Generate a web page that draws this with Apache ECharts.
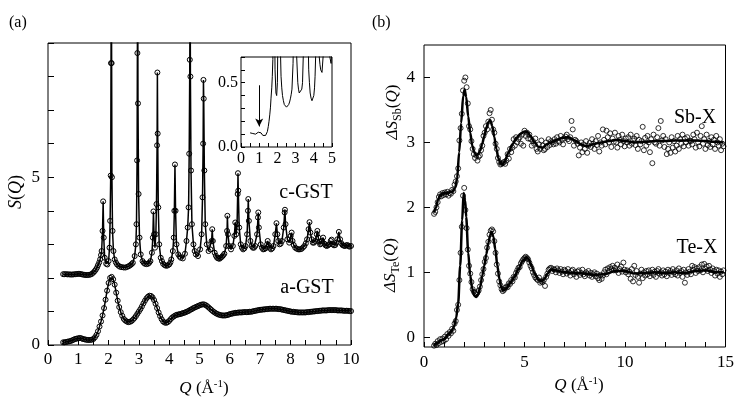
<!DOCTYPE html>
<html>
<head>
<meta charset="utf-8">
<script src="https://cdn.jsdelivr.net/npm/echarts@6/dist/echarts.min.js"></script>
<style>
  html, body { margin: 0; background: #fff; }
  #chart { width: 737px; height: 399px; }
</style>
</head>
<body>
<div id="chart"></div>
<script>
const FONT = '"Liberation Serif", "Times New Roman", serif'

// (a) amorphous GST, measured every 0.05 from Q = 0.5
const aQ0 = 0.5
const aStep = 0.05
const aGST = [
  0.08, 0.08, 0.09, 0.10, 0.11, 0.12, 0.14, 0.16, 0.18, 0.19,
  0.20, 0.21, 0.20, 0.18, 0.17, 0.16, 0.15, 0.15, 0.15, 0.16,
  0.18, 0.23, 0.30, 0.41, 0.55, 0.70, 0.88, 1.10, 1.35, 1.62,
  1.85, 2.00, 2.03, 1.96, 1.80, 1.56, 1.32, 1.13, 0.98, 0.87,
  0.78, 0.73, 0.70, 0.68, 0.69, 0.71, 0.75, 0.80, 0.86, 0.93,
  1.00, 1.07, 1.15, 1.24, 1.32, 1.39, 1.44, 1.47, 1.46, 1.42,
  1.34, 1.23, 1.10, 0.97, 0.86, 0.77, 0.70, 0.67, 0.66, 0.68,
  0.72, 0.77, 0.82, 0.85, 0.88, 0.90, 0.91, 0.92, 0.93, 0.95,
  0.96, 0.98, 1.00, 1.02, 1.05, 1.07, 1.10, 1.12, 1.14, 1.16,
  1.18, 1.20, 1.21, 1.21, 1.19, 1.16, 1.12, 1.08, 1.04, 1.00,
  0.97, 0.94, 0.92, 0.90, 0.89, 0.88, 0.88, 0.88, 0.89, 0.90,
  0.92, 0.93, 0.94, 0.95, 0.96, 0.96, 0.97, 0.97, 0.97, 0.98,
  0.98, 0.98, 0.98, 0.99, 0.99, 1.00, 1.01, 1.02, 1.03, 1.04,
  1.05, 1.05, 1.06, 1.06, 1.07, 1.07, 1.08, 1.08, 1.08, 1.08,
  1.08, 1.08, 1.07, 1.07, 1.06, 1.05, 1.04, 1.03, 1.02, 1.01,
  1.00, 0.99, 0.99, 0.98, 0.98, 0.97, 0.97, 0.97, 0.97, 0.97,
  0.97, 0.98, 0.98, 0.99, 0.99, 1.00, 1.00, 1.01, 1.01, 1.02,
  1.02, 1.03, 1.03, 1.03, 1.03, 1.04, 1.04, 1.04, 1.04, 1.04,
  1.04, 1.03, 1.03, 1.03, 1.03, 1.02, 1.02, 1.02, 1.02, 1.01,
  1.01
]

// (a) crystalline GST [Q, S(Q)], unshifted (inset); main panel shows it +2
const cGST = [
  [0.50, 0.11], [0.55, 0.11], [0.60, 0.11], [0.65, 0.105], [0.70, 0.105], [0.75, 0.10], [0.80, 0.10],
  [0.85, 0.105], [0.90, 0.11], [0.95, 0.115], [1.00, 0.12], [1.05, 0.12], [1.10, 0.11], [1.15, 0.10],
  [1.20, 0.09], [1.25, 0.085], [1.30, 0.085], [1.35, 0.09], [1.40, 0.10], [1.45, 0.12], [1.50, 0.16],
  [1.54, 0.2], [1.58, 0.25], [1.62, 0.31], [1.65, 0.38], [1.69, 0.46], [1.72, 0.55], [1.75, 0.68],
  [1.77, 0.8], [1.80, 1.4], [1.82, 2.28], [1.84, 1.2], [1.87, 0.6], [1.92, 0.42], [1.96, 0.40],
  [2.00, 0.5], [2.03, 0.9], [2.05, 1.7], [2.07, 3.05], [2.08, 6.4], [2.09, 9.5], [2.10, 6.4],
  [2.11, 3.0], [2.13, 1.4], [2.16, 0.8], [2.20, 0.55], [2.24, 0.46], [2.28, 0.4], [2.33, 0.36],
  [2.38, 0.33], [2.44, 0.32], [2.50, 0.31], [2.56, 0.31], [2.62, 0.33], [2.67, 0.35], [2.72, 0.38],
  [2.76, 0.41], [2.80, 0.45], [2.86, 0.65], [2.90, 1.0], [2.92, 1.6], [2.94, 3.5], [2.95, 6.7],
  [2.96, 9.5], [2.97, 5.2], [2.99, 2.5], [3.02, 1.2], [3.06, 0.7], [3.12, 0.5], [3.16, 0.45],
  [3.20, 0.42], [3.25, 0.41], [3.30, 0.42], [3.34, 0.45], [3.38, 0.5], [3.43, 0.75], [3.46, 1.2],
  [3.48, 1.98], [3.50, 1.3], [3.53, 0.9], [3.56, 1.3], [3.58, 2.2], [3.60, 3.95], [3.61, 6.12],
  [3.62, 4.3], [3.64, 2.1], [3.67, 1.0], [3.72, 0.6], [3.76, 0.5], [3.80, 0.42], [3.85, 0.38],
  [3.90, 0.36], [3.95, 0.37], [4.00, 0.4], [4.04, 0.46], [4.07, 0.55], [4.12, 0.8], [4.15, 1.2],
  [4.17, 2.0], [4.19, 3.38], [4.21, 2.0], [4.24, 1.0], [4.30, 0.7], [4.34, 0.64], [4.38, 0.6],
  [4.45, 0.58], [4.52, 0.72], [4.57, 1.1], [4.61, 1.5], [4.64, 2.1], [4.66, 3.7], [4.68, 6.5],
  [4.69, 9.5], [4.70, 6.0], [4.72, 3.2], [4.75, 1.6], [4.80, 1.0], [4.84, 0.8], [4.88, 0.7],
  [4.95, 0.65], [5.02, 0.85], [5.07, 1.3], [5.10, 2.4], [5.12, 4.0], [5.13, 5.9], [5.14, 5.34],
  [5.16, 3.2], [5.19, 1.6], [5.24, 1.0], [5.30, 0.8], [5.36, 0.85], [5.40, 1.1], [5.42, 1.45],
  [5.44, 1.1], [5.50, 0.75], [5.54, 0.66], [5.58, 0.6], [5.62, 0.58], [5.66, 0.57], [5.70, 0.6],
  [5.74, 0.63], [5.78, 0.67], [5.82, 0.72], [5.88, 0.95], [5.91, 1.4], [5.92, 1.85], [5.94, 1.3],
  [5.98, 0.95], [6.04, 0.85], [6.10, 0.95], [6.15, 1.25], [6.18, 1.65], [6.21, 1.3], [6.24, 1.6],
  [6.26, 2.5], [6.27, 3.12], [6.28, 2.6], [6.31, 1.5], [6.36, 1.0], [6.40, 0.9], [6.44, 0.85],
  [6.48, 0.88], [6.52, 0.95], [6.57, 1.3], [6.60, 2.0], [6.61, 2.35], [6.63, 1.7], [6.68, 1.1],
  [6.72, 0.95], [6.76, 0.9], [6.80, 0.9], [6.84, 0.95], [6.90, 1.3], [6.93, 1.8], [6.94, 1.95],
  [6.96, 1.5], [7.02, 1.0], [7.06, 0.9], [7.10, 0.85], [7.14, 0.86], [7.18, 0.88], [7.23, 1.0],
  [7.25, 1.1], [7.28, 0.98], [7.32, 0.9], [7.36, 0.85], [7.40, 0.88], [7.44, 0.95], [7.50, 1.3],
  [7.54, 1.63], [7.57, 1.3], [7.60, 1.1], [7.64, 1.0], [7.68, 1.02], [7.72, 1.1], [7.78, 1.5],
  [7.81, 1.95], [7.82, 2.03], [7.84, 1.6], [7.90, 1.15], [7.96, 1.05], [8.01, 1.25], [8.04, 1.35],
  [8.07, 1.1], [8.11, 0.98], [8.16, 0.9], [8.21, 0.87], [8.26, 0.85], [8.31, 0.85], [8.36, 0.86],
  [8.41, 0.9], [8.46, 0.95], [8.51, 1.03], [8.55, 1.15], [8.60, 1.45], [8.63, 1.66], [8.66, 1.35],
  [8.70, 1.15], [8.74, 1.05], [8.78, 1.05], [8.82, 1.1], [8.87, 1.3], [8.89, 1.4], [8.92, 1.2],
  [8.95, 1.08], [8.98, 1.0], [9.01, 1.02], [9.04, 1.1], [9.08, 1.2], [9.12, 1.02], [9.16, 0.97],
  [9.20, 0.95], [9.24, 0.97], [9.28, 1.0], [9.33, 1.1], [9.36, 1.14], [9.40, 1.0], [9.44, 0.97],
  [9.48, 0.98], [9.52, 1.05], [9.55, 1.15], [9.60, 1.37], [9.64, 1.15], [9.68, 1.03], [9.72, 0.98],
  [9.76, 0.96], [9.80, 0.95], [9.84, 0.97], [9.88, 0.98], [9.92, 0.95], [9.95, 0.93], [10.0, 0.95]
]
const C_OFFSET = 2

// (b) measured points, every 0.06 from Q = 0.5 (Sb-X shown +2)
const bQ0 = 0.5
const bStep = 0.06
const sbPts = [
  -0.10, -0.07, 0.00, 0.08, 0.16, 0.20, 0.17, 0.22, 0.19, 0.23,
  0.20, 0.24, 0.18, 0.22, 0.21, 0.27, 0.25, 0.35, 0.40, 0.48,
  0.60, 1.03, 1.22, 1.44, 1.80, 1.95, 2.00, 1.85, 1.60, 1.25,
  1.20, 1.02, 0.90, 0.82, 0.76, 0.80, 0.72, 0.78, 0.80, 0.88,
  0.95, 1.10, 1.15, 1.25, 1.20, 1.32, 1.45, 1.50, 1.35, 1.20,
  1.15, 0.98, 0.90, 0.76, 0.70, 0.66, 0.67, 0.68, 0.70, 0.67,
  0.72, 0.82, 0.75, 0.90, 0.85, 0.92, 1.05, 0.95, 1.08, 1.00,
  1.05, 1.08, 0.98, 1.12, 0.95, 1.18, 1.10, 1.15, 1.06, 1.12,
  1.05, 0.95, 1.02, 0.98, 1.06, 0.90, 0.86, 0.97, 0.90, 1.03,
  0.95, 0.88, 0.90, 1.00, 0.93, 1.05, 0.96, 1.02, 1.00, 0.97,
  1.05, 0.98, 1.08, 1.02, 1.00, 1.10, 1.04, 0.97, 1.06, 1.09,
  1.12, 1.05, 1.02, 1.08, 1.33, 1.20, 0.95, 1.04, 1.02, 0.98,
  0.80, 0.92, 1.00, 0.85, 0.97, 0.90, 1.02, 0.84, 0.95, 0.99,
  0.93, 1.05, 0.98, 0.90, 1.02, 0.96, 1.10, 0.86, 1.00, 0.95,
  1.20, 1.04, 0.97, 1.18, 1.08, 1.00, 1.14, 0.93, 1.06, 1.01,
  1.15, 1.00, 0.92, 1.10, 1.04, 0.97, 1.12, 1.02, 0.94, 1.06,
  1.00, 1.08, 0.95, 1.12, 0.98, 1.03, 1.06, 0.96, 1.10, 0.90,
  1.04, 0.97, 1.02, 1.24, 0.88, 1.07, 0.95, 1.10, 1.00, 0.85,
  1.05, 0.68, 1.12, 1.00, 0.98, 1.08, 1.22, 0.95, 1.33, 1.03,
  1.10, 0.93, 1.05, 0.82, 0.90, 1.00, 0.84, 1.08, 0.92, 1.02,
  0.86, 0.95, 1.10, 0.90, 1.05, 0.98, 1.12, 0.94, 1.06, 1.00,
  1.08, 0.95, 1.03, 1.02, 0.97, 1.12, 1.05, 0.92, 1.15, 1.00,
  0.94, 1.10, 1.25, 0.98, 1.05, 0.90, 1.12, 0.96, 1.02, 0.93,
  1.08, 0.97, 1.04, 0.90, 1.10, 1.00, 0.95, 1.05, 0.88, 0.98, 0.94
]
const tePts = [
  -0.13, -0.10, -0.12, -0.06, -0.09, -0.03, -0.07, -0.02, -0.06, 0.01,
  -0.03, 0.05, 0.02, 0.08, 0.06, 0.13, 0.10, 0.21, 0.25, 0.42,
  0.50, 0.88, 1.30, 1.70, 2.18, 2.30, 1.96, 1.68, 1.35, 1.10,
  0.98, 0.85, 0.74, 0.70, 0.68, 0.66, 0.69, 0.72, 0.78, 0.88,
  0.97, 1.05, 1.16, 1.22, 1.38, 1.47, 1.58, 1.64, 1.66, 1.63,
  1.48, 1.30, 1.12, 0.98, 0.86, 0.80, 0.74, 0.71, 0.73, 0.76,
  0.78, 0.77, 0.83, 0.82, 0.88, 0.86, 0.93, 0.92, 0.99, 1.03,
  1.07, 1.08, 1.14, 1.17, 1.20, 1.22, 1.24, 1.22, 1.20, 1.15,
  1.10, 1.06, 1.00, 0.96, 0.92, 0.90, 0.88, 0.92, 0.84, 0.86,
  0.85, 0.88, 0.79, 0.93, 0.98, 1.04, 1.06, 1.07, 1.02, 1.05,
  1.04, 1.00, 1.06, 1.03, 0.99, 1.05, 1.01, 0.97, 1.04, 1.02,
  0.98, 1.05, 1.00, 0.95, 1.02, 1.04, 0.97, 1.00, 0.93, 1.01,
  1.03, 0.96, 0.99, 1.04, 0.97, 0.94, 1.00, 0.98, 1.02, 0.95,
  0.99, 0.93, 0.97, 1.00, 0.94, 0.98, 0.91, 0.88, 0.96, 0.90,
  0.95, 1.00, 1.04, 0.97, 1.06, 1.02, 1.08, 1.05, 1.10, 1.03,
  1.07, 1.03, 1.12, 0.99, 1.05, 1.09, 1.01, 1.15, 1.04, 1.00,
  1.03, 0.97, 1.01, 0.90, 1.05, 0.86, 1.10, 0.96, 1.02, 0.93,
  0.84, 0.98, 1.04, 0.91, 1.00, 0.95, 1.02, 0.97, 1.03, 0.94,
  0.99, 1.04, 0.96, 1.01, 0.93, 1.02, 1.05, 0.98, 1.00, 0.95,
  1.03, 0.97, 1.01, 0.94, 1.04, 0.99, 1.02, 0.96, 1.05, 1.00,
  0.97, 1.03, 0.95, 1.06, 0.99, 1.02, 0.93, 1.04, 0.84, 1.00,
  0.96, 1.05, 1.01, 0.97, 1.10, 1.04, 1.08, 0.99, 1.06, 1.02,
  1.08, 1.03, 1.12, 1.00, 1.13, 1.05, 1.09, 1.02, 1.10, 1.04,
  0.99, 1.06, 1.02, 0.95, 1.04, 0.98, 1.03, 0.93, 1.01, 0.97, 1.03
]
const SB_OFFSET = 2

// (b) fitted curves [Q, ΔS], unshifted
const sbFit = [
  [0.5, -0.08], [0.6, 0.0], [0.7, 0.12], [0.8, 0.18], [0.9, 0.21], [1.0, 0.22], [1.2, 0.23],
  [1.4, 0.24], [1.55, 0.3], [1.65, 0.45], [1.75, 0.85], [1.85, 1.3], [1.95, 1.72], [2.02, 1.81],
  [2.1, 1.7], [2.2, 1.4], [2.3, 1.15], [2.4, 0.95], [2.5, 0.85], [2.6, 0.8], [2.7, 0.82],
  [2.8, 0.88], [2.9, 0.98], [3.0, 1.1], [3.1, 1.22], [3.2, 1.31], [3.3, 1.34], [3.4, 1.25],
  [3.5, 1.08], [3.6, 0.9], [3.7, 0.76], [3.8, 0.68], [3.9, 0.66], [4.0, 0.7], [4.2, 0.84],
  [4.4, 0.97], [4.6, 1.07], [4.8, 1.13], [5.0, 1.17], [5.15, 1.16], [5.3, 1.1], [5.5, 1.0],
  [5.7, 0.93], [5.9, 0.92], [6.1, 0.97], [6.3, 1.0], [6.6, 1.04], [6.9, 1.07], [7.2, 1.08],
  [7.5, 1.03], [7.8, 0.97], [8.1, 0.94], [8.4, 0.97], [8.8, 1.0], [9.2, 1.02], [9.6, 1.04],
  [10.0, 1.02], [10.5, 1.0], [11.0, 1.01], [11.5, 1.02], [12.0, 1.02], [12.5, 1.03], [13.0, 1.03],
  [13.5, 1.03], [14.0, 1.02], [14.5, 1.01], [14.9, 1.0]
]
const teFit = [
  [0.5, -0.13], [0.7, -0.08], [0.9, -0.04], [1.0, -0.03], [1.1, 0.0], [1.2, 0.04], [1.3, 0.07],
  [1.4, 0.11], [1.5, 0.17], [1.6, 0.3], [1.7, 0.52], [1.8, 1.1], [1.9, 1.8], [1.97, 2.22],
  [2.05, 2.1], [2.1, 1.85], [2.2, 1.3], [2.3, 0.95], [2.4, 0.75], [2.5, 0.64], [2.6, 0.62],
  [2.7, 0.66], [2.8, 0.78], [2.9, 0.95], [3.0, 1.1], [3.1, 1.28], [3.2, 1.45], [3.3, 1.58],
  [3.37, 1.62], [3.45, 1.55], [3.55, 1.35], [3.65, 1.1], [3.75, 0.9], [3.85, 0.76], [3.95, 0.72],
  [4.1, 0.76], [4.3, 0.84], [4.5, 0.93], [4.7, 1.05], [4.9, 1.17], [5.1, 1.23], [5.2, 1.2],
  [5.35, 1.1], [5.5, 0.98], [5.7, 0.88], [5.85, 0.86], [6.0, 0.9], [6.15, 0.98], [6.3, 1.04],
  [6.5, 1.03], [7.0, 1.0], [7.5, 0.99], [8.0, 0.98], [8.5, 0.96], [9.0, 0.97], [9.5, 1.02],
  [10.0, 1.02], [10.5, 0.98], [11.0, 0.99], [11.5, 1.0], [12.0, 0.99], [12.5, 1.0], [13.0, 0.99],
  [13.5, 1.02], [14.0, 1.03], [14.5, 1.0], [14.9, 1.0]
]

// ticks and tick labels
const aXTicks = [0, 0.5, 1, 1.5, 2, 2.5, 3, 3.5, 4, 4.5, 5, 5.5, 6, 6.5, 7, 7.5, 8, 8.5, 9, 9.5, 10]
const aXLabels = [0, 1, 2, 3, 4, 5, 6, 7, 8, 9, 10]
const aYTicks = [0, 1, 2, 3, 4, 5, 6, 7, 8, 9]
const aYLabels = [0, 5]
const inXTicks = [0, 0.5, 1, 1.5, 2, 2.5, 3, 3.5, 4, 4.5, 5]
const inXLabels = [0, 1, 2, 3, 4, 5]
const inYTicks = [0, 0.1, 0.2, 0.3, 0.4, 0.5, 0.6, 0.7]
const inYLabels = [0, 0.5]
const bXTicks = [0, 1, 2, 3, 4, 5, 6, 7, 8, 9, 10, 11, 12, 13, 14, 15]
const bXLabels = [0, 5, 10, 15]
const bYTicks = [0, 1, 2, 3, 4]
const bYLabels = [0, 1, 2, 3, 4]

// arrow in the inset (data units)
const ARROW_Q = 1
const ARROW_FROM = 0.48
const ARROW_TO = 0.16

const chart = echarts.init(document.getElementById('chart'), null, { renderer: 'canvas' })

const onGrid = (series, q0, step, offset) =>
  series.map((v, i) => [+(q0 + i * step).toFixed(3), v + offset])
const shift = (pairs, offset) => pairs.map(([q, v]) => [q, v + offset])

const tickStyle = { color: '#000', width: 1 }

function axis(gridIndex, min, max, ticks, labels, opts = {}) {
  return {
    type: 'value',
    gridIndex,
    min,
    max,
    axisLine: { show: false, onZero: false },
    splitLine: { show: false },
    axisTick: { show: true, inside: true, length: opts.tickLen || 5, customValues: ticks, lineStyle: tickStyle },
    axisLabel: {
      color: '#000',
      fontFamily: FONT,
      fontSize: opts.fontSize || 17,
      margin: opts.margin || 7,
      customValues: labels,
      formatter: opts.formatter,
    },
  }
}

const openCircle = { color: 'rgba(0,0,0,0)', borderColor: '#000', borderWidth: 1 }

const sub = (size) => ({ fontFamily: FONT, fontSize: size, verticalAlign: 'bottom' })
const ital = (size) => ({ fontFamily: FONT, fontSize: size, fontStyle: 'italic' })

const option = {
  animation: false,
  backgroundColor: '#fff',
  textStyle: { fontFamily: FONT },
  grid: [
    { left: 48, top: 43, width: 303, height: 302, show: true, borderColor: '#000', borderWidth: 1 },
    { left: 241, top: 57, width: 91, height: 90, show: true, borderColor: '#000', borderWidth: 1, backgroundColor: '#fff' },
    { left: 424, top: 45, width: 304, height: 302, show: true, borderColor: '#000', borderWidth: 1 },
  ],
  xAxis: [
    axis(0, 0, 10, aXTicks, aXLabels, { margin: 6 }),
    axis(1, 0, 5, inXTicks, inXLabels, { fontSize: 16, margin: 4, tickLen: 4 }),
    axis(2, 0, 15, bXTicks, bXLabels, { margin: 7 }),
  ],
  yAxis: [
    axis(0, 0, 9, aYTicks, aYLabels, { margin: 8, tickLen: 6 }),
    axis(1, 0, 0.7, inYTicks, inYLabels, { fontSize: 16, margin: 3, tickLen: 4, formatter: (v) => v.toFixed(1) }),
    axis(2, -0.15, 4.5, bYTicks, bYLabels, { margin: 9, tickLen: 6 }),
  ],
  series: [
    {
      name: 'a-GST',
      type: 'line',
      xAxisIndex: 0,
      yAxisIndex: 0,
      data: onGrid(aGST, aQ0, aStep, 0),
      symbol: 'circle',
      symbolSize: 5,
      showAllSymbol: true,
      lineStyle: { color: '#000', width: 1.5 },
      itemStyle: openCircle,
    },
    {
      name: 'c-GST',
      type: 'line',
      xAxisIndex: 0,
      yAxisIndex: 0,
      data: shift(cGST, C_OFFSET),
      symbol: 'circle',
      symbolSize: 5,
      showAllSymbol: true,
      lineStyle: { color: '#000', width: 1.5 },
      itemStyle: openCircle,
    },
    {
      name: 'c-GST inset',
      type: 'line',
      xAxisIndex: 1,
      yAxisIndex: 1,
      data: cGST,
      showSymbol: false,
      lineStyle: { color: '#000', width: 1 },
      markLine: {
        silent: true,
        symbol: ['none', 'arrow'],
        symbolSize: [6, 8],
        label: { show: false },
        lineStyle: { color: '#000', width: 1, type: 'solid' },
        data: [[{ coord: [ARROW_Q, ARROW_FROM] }, { coord: [ARROW_Q, ARROW_TO] }]],
      },
    },
    {
      name: 'Sb-X data',
      type: 'scatter',
      xAxisIndex: 2,
      yAxisIndex: 2,
      data: onGrid(sbPts, bQ0, bStep, SB_OFFSET),
      symbol: 'circle',
      symbolSize: 5,
      itemStyle: openCircle,
    },
    {
      name: 'Te-X data',
      type: 'scatter',
      xAxisIndex: 2,
      yAxisIndex: 2,
      data: onGrid(tePts, bQ0, bStep, 0),
      symbol: 'circle',
      symbolSize: 5,
      itemStyle: openCircle,
    },
    {
      name: 'Sb-X fit',
      type: 'line',
      xAxisIndex: 2,
      yAxisIndex: 2,
      data: shift(sbFit, SB_OFFSET),
      showSymbol: false,
      smooth: 0.3,
      smoothMonotone: 'x',
      lineStyle: { color: '#000', width: 2.5 },
      z: 5,
    },
    {
      name: 'Te-X fit',
      type: 'line',
      xAxisIndex: 2,
      yAxisIndex: 2,
      data: teFit,
      showSymbol: false,
      smooth: 0.3,
      smoothMonotone: 'x',
      lineStyle: { color: '#000', width: 2.5 },
      z: 5,
    },
  ],
  graphic: [
    { type: 'text', x: 9, y: 15, style: { text: '(a)', fontFamily: FONT, fontSize: 16, fill: '#000' } },
    { type: 'text', x: 372, y: 15, style: { text: '(b)', fontFamily: FONT, fontSize: 16, fill: '#000' } },
    {
      type: 'text', x: 16, y: 192, rotation: Math.PI / 2,
      style: {
        text: '{i|S}{r|(}{i|Q}{r|)}', align: 'center', verticalAlign: 'middle', fill: '#000',
        rich: { i: ital(18), r: { fontFamily: FONT, fontSize: 18 } },
      },
    },
    {
      type: 'text', x: 393, y: 112, rotation: Math.PI / 2,
      style: {
        text: '{i|ΔS}{sub|Sb}{r|(}{i|Q}{r|)}', align: 'center', verticalAlign: 'middle', fill: '#000', lineHeight: 22,
        rich: { i: ital(17), sub: sub(12), r: { fontFamily: FONT, fontSize: 17 } },
      },
    },
    {
      type: 'text', x: 391, y: 265, rotation: Math.PI / 2,
      style: {
        text: '{i|ΔS}{sub|Te}{r|(}{i|Q}{r|)}', align: 'center', verticalAlign: 'middle', fill: '#000', lineHeight: 22,
        rich: { i: ital(17), sub: sub(12), r: { fontFamily: FONT, fontSize: 17 } },
      },
    },
    {
      type: 'text', x: 204, y: 389,
      style: {
        text: '{i|Q}{r| (Å}{sup|-1}{r|)}', align: 'center', verticalAlign: 'middle', fill: '#000', lineHeight: 20,
        rich: { i: ital(17), r: { fontFamily: FONT, fontSize: 17 }, sup: { fontFamily: FONT, fontSize: 11, verticalAlign: 'top' } },
      },
    },
    {
      type: 'text', x: 579, y: 386,
      style: {
        text: '{i|Q}{r| (Å}{sup|-1}{r|)}', align: 'center', verticalAlign: 'middle', fill: '#000', lineHeight: 20,
        rich: { i: ital(17), r: { fontFamily: FONT, fontSize: 17 }, sup: { fontFamily: FONT, fontSize: 11, verticalAlign: 'top' } },
      },
    },
    { type: 'text', x: 306, y: 193, style: { text: 'c-GST', align: 'center', verticalAlign: 'middle', fontFamily: FONT, fontSize: 20, fill: '#000' } },
    { type: 'text', x: 307, y: 288, style: { text: 'a-GST', align: 'center', verticalAlign: 'middle', fontFamily: FONT, fontSize: 20, fill: '#000' } },
    { type: 'text', x: 695, y: 118, style: { text: 'Sb-X', align: 'center', verticalAlign: 'middle', fontFamily: FONT, fontSize: 20, fill: '#000' } },
    { type: 'text', x: 697, y: 248, style: { text: 'Te-X', align: 'center', verticalAlign: 'middle', fontFamily: FONT, fontSize: 20, fill: '#000' } },
  ],
}

chart.setOption(option)
window.addEventListener('resize', () => chart.resize())
</script>
</body>
</html>
